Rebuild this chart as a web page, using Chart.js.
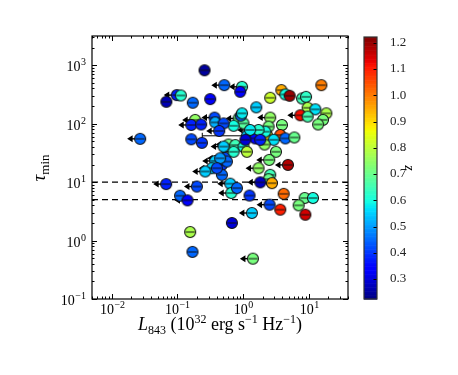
<!DOCTYPE html>
<html>
<head>
<meta charset="utf-8">
<script src="https://cdn.jsdelivr.net/npm/chart.js@4.4.0/dist/chart.umd.min.js"></script>
<style>
  body { margin: 0; background: #fff; }
  #wrap { position: relative; width: 458px; height: 375px; }
  #main { position: absolute; left: 0; top: 0; }
  #cbar { position: absolute; left: 350px; top: 0; }
</style>
</head>
<body>
<div id="wrap">
  <canvas id="main" width="458" height="375"></canvas>
  <canvas id="cbar" width="108" height="375"></canvas>
</div>
<script>
// luminosity L843 (1e32 erg/s/Hz)
const lum = [0.26, 0.52, 0.97, 0.91, 0.098, 0.113, 0.068, 0.172, 0.317, 1.6,
  2.61, 3.85, 4.43, 5.16, 7.96, 9.16, 15.7, 9.71, 12.7, 18.7,
  7.5, 9.7, 16.6, 14.0, 2.61, 3.94, 2.46, 0.86, 1.02, 0.72,
  0.93, 0.187, 0.163, 0.231, 0.369, 0.378, 0.507, 0.435, 0.163, 0.237,
  0.0271, 1.15, 1.54, 2.32, 2.19, 3.71, 4.43, 6.08, 2.94, 1.73,
  0.604, 0.764, 1.02, 1.15, 2.14, 3.19, 0.537, 0.478, 0.57, 0.378,
  0.336, 0.478, 1.73, 2.52, 4.86, 2.61, 2.46, 1.84, 2.77, 0.64,
  0.664, 0.81, 1.26, 0.0676, 0.199, 0.11, 0.143, 4.18, 8.74, 11.7,
  7.08, 2.55, 3.71, 8.95, 1.37, 0.68, 0.157, 0.17, 1.42, 0.97,
  1.29, 1.09, 1.84, 0.507, 0.72, 0.45, 0.40, 0.266];
// tau_min
const tau = [820, 456, 427, 351, 308, 304, 237, 228, 263, 190,
  277, 375, 316, 300, 270, 288, 456, 187, 176, 150,
  139, 132, 116, 97, 127, 95, 89, 123, 101, 92,
  137, 116, 95, 97, 127, 105, 101, 75, 54, 47,
  55, 62, 56, 64, 73, 64, 56, 58, 53, 78,
  44, 43, 40, 33, 44, 33, 26, 19.7, 22.5, 23,
  17.3, 13.3, 17.3, 24, 19.7, 13.3, 11.2, 9.9, 9.6, 9.4,
  6.5, 7.9, 5.9, 9.25, 8.4, 5.85, 4.87, 6.3, 5.34, 5.34,
  4.0, 4.11, 3.38, 2.77, 2.96, 2.0, 1.4, 0.64, 0.49, 150,
  78, 53, 53, 40.5, 33, 25.6, 17.3, 15.2];
// redshift
const redshift = [0.25, 0.45, 0.62, 0.35, 0.38, 0.62, 0.27, 0.45, 0.33, 0.55,
  0.82, 0.95, 0.6, 1.2, 0.65, 0.63, 1.0, 0.78, 0.57, 0.78,
  1.12, 0.66, 0.72, 0.72, 0.75, 0.72, 0.72, 0.7, 0.68, 0.6,
  0.45, 0.75, 0.38, 0.38, 0.42, 0.52, 0.42, 0.4, 0.42, 0.4,
  0.45, 0.55, 0.35, 0.9, 0.6, 1.05, 0.45, 0.7, 0.57, 0.62,
  0.7, 0.65, 0.6, 0.8, 0.75, 0.72, 0.42, 0.4, 0.45, 0.55,
  0.55, 0.45, 0.75, 0.72, 1.18, 0.65, 0.7, 0.28, 0.95, 0.55,
  0.62, 0.45, 0.4, 0.38, 0.42, 0.45, 0.35, 1.02, 0.7, 0.6,
  0.72, 0.42, 1.1, 1.15, 0.55, 0.3, 0.78, 0.45, 0.72, 0.58,
  0.58, 0.3, 0.38, 0.55, 0.62, 0.5, 0.42, 0.55];
// 1 = upper limit on L843 (left arrow)
const upperLimit = [0, 1, 1, 0, 1, 0, 0, 0, 0, 0,
  0, 0, 0, 0, 0, 0, 0, 0, 0, 0,
  1, 0, 0, 0, 1, 0, 0, 1, 0, 0,
  0, 1, 1, 0, 1, 0, 0, 1, 0, 0,
  1, 0, 0, 0, 0, 0, 0, 0, 0, 0,
  1, 0, 0, 0, 0, 0, 1, 0, 0, 1,
  1, 0, 1, 1, 1, 0, 0, 1, 0, 1,
  1, 0, 0, 1, 1, 0, 1, 0, 0, 0,
  0, 1, 0, 0, 1, 0, 0, 0, 1, 0,
  1, 0, 0, 1, 1, 1, 0, 1];
// one source with a wide x error bar
const wideErr = { index: 41, lo: 0.24, hi: 1.64 };
const tauCuts = [10, 5];
const xRange = [0.005, 40];
const yRange = [0.1, 3162];
const zRange = [0.224, 1.222];
const zTicks = [0.3, 0.4, 0.5, 0.6, 0.7, 0.8, 0.9, 1.0, 1.1, 1.2];

const serif = "'Liberation Serif', 'DejaVu Serif', serif";

function jet(t) {
  t = Math.min(1, Math.max(0, t));
  const seg = (pts) => {
    for (let i = 1; i < pts.length; i++) {
      if (t <= pts[i][0]) {
        const [x0, y0] = pts[i - 1], [x1, y1] = pts[i];
        return y0 + (y1 - y0) * (t - x0) / (x1 - x0);
      }
    }
    return pts[pts.length - 1][1];
  };
  const r = seg([[0, 0], [0.35, 0], [0.66, 1], [0.89, 1], [1, 0.5]]);
  const g = seg([[0, 0], [0.125, 0], [0.375, 1], [0.64, 1], [0.91, 0], [1, 0]]);
  const b = seg([[0, 0.5], [0.11, 1], [0.34, 1], [0.65, 0], [1, 0]]);
  return `rgb(${Math.round(r * 255)},${Math.round(g * 255)},${Math.round(b * 255)})`;
}
function zColor(z) { return jet((z - zRange[0]) / (zRange[1] - zRange[0])); }

// circle marker with the small error bar through it
function makeMarker(color) {
  const c = document.createElement('canvas');
  c.width = 14; c.height = 14;
  const g = c.getContext('2d');
  g.beginPath();
  g.arc(7, 7, 5.5, 0, Math.PI * 2);
  g.fillStyle = color;
  g.fill();
  g.lineWidth = 1.1;
  g.strokeStyle = '#111';
  g.stroke();
  g.beginPath();
  g.moveTo(2.5, 7); g.lineTo(11.5, 7);
  g.lineWidth = 1;
  g.stroke();
  return c;
}

const points = lum.map((x, i) => ({ x: x, y: tau[i] }));
const markers = redshift.map(z => makeMarker(zColor(z)));

function logTicks(min, max) {
  const out = [];
  for (let e = Math.floor(Math.log10(min)); e <= Math.ceil(Math.log10(max)); e++) {
    for (let m = 1; m < 10; m++) {
      const v = m * Math.pow(10, e);
      if (v >= min * 0.999 && v <= max * 1.001) out.push({ v: v, major: m === 1, e: e });
    }
  }
  return out;
}

function drawPow(ctx, x, y, e, align) {
  const base = '10', ex = (e < 0 ? '\u2212' : '') + Math.abs(e);
  ctx.font = '14px ' + serif;
  const wb = ctx.measureText(base).width;
  ctx.font = '10px ' + serif;
  const we = ctx.measureText(ex).width;
  const w = wb + we + 0.5;
  let x0 = align === 'right' ? x - w : x - w / 2;
  ctx.textAlign = 'left';
  ctx.textBaseline = 'alphabetic';
  ctx.font = '14px ' + serif;
  ctx.fillText(base, x0, y);
  ctx.font = '10px ' + serif;
  ctx.fillText(ex, x0 + wb + 0.5, y - 6);
}

const framePlugin = {
  id: 'frame',
  beforeDatasetsDraw(chart) {
    const { ctx, chartArea: a, scales } = chart;
    const xs = scales.x, ys = scales.y;
    ctx.save();
    // threshold lines
    ctx.setLineDash([6, 4]);
    ctx.strokeStyle = '#000';
    ctx.lineWidth = 1.2;
    tauCuts.forEach(t => {
      const py = ys.getPixelForValue(t);
      ctx.beginPath(); ctx.moveTo(a.left, py); ctx.lineTo(a.right, py); ctx.stroke();
    });
    ctx.setLineDash([]);
    // wide error bar
    const meta = chart.getDatasetMeta(0);
    const pe = meta.data[wideErr.index];
    const xl = xs.getPixelForValue(wideErr.lo), xh = xs.getPixelForValue(wideErr.hi);
    ctx.lineWidth = 1;
    ctx.beginPath();
    ctx.moveTo(xl, pe.y); ctx.lineTo(xh, pe.y);
    ctx.moveTo(xl, pe.y - 3); ctx.lineTo(xl, pe.y + 3);
    ctx.moveTo(xh, pe.y - 3); ctx.lineTo(xh, pe.y + 3);
    ctx.stroke();
    // upper-limit arrows
    ctx.fillStyle = '#000';
    meta.data.forEach((pt, i) => {
      if (!upperLimit[i]) return;
      const tip = pt.x - 13;
      ctx.lineWidth = 1.4;
      ctx.beginPath(); ctx.moveTo(pt.x, pt.y); ctx.lineTo(tip + 4, pt.y); ctx.stroke();
      ctx.beginPath();
      ctx.moveTo(tip, pt.y); ctx.lineTo(tip + 5.5, pt.y - 3.5); ctx.lineTo(tip + 5.5, pt.y + 3.5);
      ctx.closePath(); ctx.fill();
    });
    ctx.restore();
  },
  afterDraw(chart) {
    const { ctx, chartArea: a, scales } = chart;
    const xs = scales.x, ys = scales.y;
    ctx.save();
    ctx.strokeStyle = '#000';
    ctx.fillStyle = '#000';
    ctx.lineWidth = 1;
    logTicks(xRange[0], xRange[1]).forEach(t => {
      const px = Math.round(xs.getPixelForValue(t.v)) + 0.5;
      const len = t.major ? 5 : 2.5;
      ctx.beginPath();
      ctx.moveTo(px, a.bottom); ctx.lineTo(px, a.bottom - len);
      ctx.moveTo(px, a.top); ctx.lineTo(px, a.top + len);
      ctx.stroke();
      if (t.major) drawPow(ctx, px, a.bottom + 15, t.e, 'center');
    });
    logTicks(yRange[0], yRange[1]).forEach(t => {
      const py = Math.round(ys.getPixelForValue(t.v)) + 0.5;
      const len = t.major ? 5 : 2.5;
      ctx.beginPath();
      ctx.moveTo(a.left, py); ctx.lineTo(a.left + len, py);
      ctx.moveTo(a.right, py); ctx.lineTo(a.right - len, py);
      ctx.stroke();
      if (t.major) drawPow(ctx, a.left - 6, py + 5, t.e, 'right');
    });
    ctx.lineWidth = 1.2;
    ctx.strokeRect(a.left, a.top, a.right - a.left, a.bottom - a.top);

    // x title
    const parts = [
      ['L', 'italic 18px', 0], ['843', '12px', 4], [' (10', '18px', 0], ['32', '12px', -7],
      [' erg s', '18px', 0], ['\u22121', '12px', -7], [' Hz', '18px', 0], ['\u22121', '12px', -7], [')', '18px', 0]
    ];
    let total = 0;
    parts.forEach(p => { ctx.font = p[1] + ' ' + serif; total += ctx.measureText(p[0]).width; });
    let cx = (a.left + a.right) / 2 - total / 2;
    ctx.textAlign = 'left';
    ctx.textBaseline = 'alphabetic';
    parts.forEach(p => {
      ctx.font = p[1] + ' ' + serif;
      ctx.fillText(p[0], cx, 330 + p[2]);
      cx += ctx.measureText(p[0]).width;
    });

    // y title
    ctx.translate(45, 168);
    ctx.rotate(-Math.PI / 2);
    ctx.font = 'italic 19px ' + serif;
    const wt = ctx.measureText('\u03c4').width;
    ctx.font = '13px ' + serif;
    const wm = ctx.measureText('min').width;
    let sx = -(wt + wm) / 2;
    ctx.font = 'italic 19px ' + serif;
    ctx.fillText('\u03c4', sx, 0);
    ctx.font = '13px ' + serif;
    ctx.fillText('min', sx + wt, 4);
    ctx.restore();
  }
};

new Chart(document.getElementById('main'), {
  type: 'scatter',
  data: {
    datasets: [{
      data: points,
      pointStyle: markers,
      pointRadius: 5.5,
      pointHoverRadius: 5.5
    }]
  },
  options: {
    responsive: false,
    animation: false,
    events: [],
    layout: { padding: { top: 36, right: 110, left: 0, bottom: 0 } },
    plugins: { legend: { display: false }, tooltip: { enabled: false } },
    scales: {
      x: {
        type: 'logarithmic', min: xRange[0], max: xRange[1],
        grid: { display: false }, border: { display: false }, ticks: { display: false },
        afterFit: s => { s.height = 76; }
      },
      y: {
        type: 'logarithmic', min: yRange[0], max: yRange[1],
        grid: { display: false }, border: { display: false }, ticks: { display: false },
        afterFit: s => { s.width = 92; }
      }
    }
  },
  plugins: [framePlugin]
});

// colour bar
const cbarPlugin = {
  id: 'cbar',
  beforeDatasetsDraw(chart) {
    const { ctx, chartArea: a, scales } = chart;
    const ys = scales.y;
    ctx.save();
    const steps = 200;
    for (let i = 0; i < steps; i++) {
      const z0 = zRange[0] + (zRange[1] - zRange[0]) * i / steps;
      const z1 = zRange[0] + (zRange[1] - zRange[0]) * (i + 1) / steps;
      const p0 = ys.getPixelForValue(z0), p1 = ys.getPixelForValue(z1);
      ctx.fillStyle = zColor((z0 + z1) / 2);
      ctx.fillRect(a.left, p1, a.right - a.left, p0 - p1 + 0.6);
    }
    ctx.strokeStyle = '#000';
    ctx.lineWidth = 1;
    zTicks.forEach(z => {
      const py = Math.round(ys.getPixelForValue(z)) + 0.5;
      ctx.beginPath(); ctx.moveTo(a.right, py); ctx.lineTo(a.right - 3.5, py); ctx.stroke();
    });
    ctx.strokeStyle = '#333';
    ctx.lineWidth = 1.2;
    ctx.strokeRect(a.left, a.top, a.right - a.left, a.bottom - a.top);
    // z label
    ctx.translate(59, 168);
    ctx.rotate(Math.PI / 2);
    ctx.fillStyle = '#000';
    ctx.font = 'italic 14px ' + serif;
    ctx.textAlign = 'center';
    ctx.textBaseline = 'middle';
    ctx.fillText('z', 0, 0);
    ctx.restore();
  }
};

new Chart(document.getElementById('cbar'), {
  type: 'scatter',
  data: { datasets: [{ data: [] }] },
  options: {
    responsive: false,
    animation: false,
    events: [],
    layout: { padding: { top: 37, bottom: 76, left: 14, right: 41 } },
    plugins: { legend: { display: false }, tooltip: { enabled: false } },
    scales: {
      x: { display: false, min: 0, max: 1 },
      y: {
        position: 'right', min: zRange[0], max: zRange[1],
        grid: { display: false }, border: { display: false },
        afterBuildTicks: s => { s.ticks = zTicks.map(v => ({ value: v })); },
        ticks: {
          padding: 5, color: '#222',
          font: { family: serif, size: 13 },
          callback: v => v.toFixed(1)
        },
        afterFit: s => { s.width = 40; }
      }
    }
  },
  plugins: [cbarPlugin]
});
</script>
</body>
</html>
